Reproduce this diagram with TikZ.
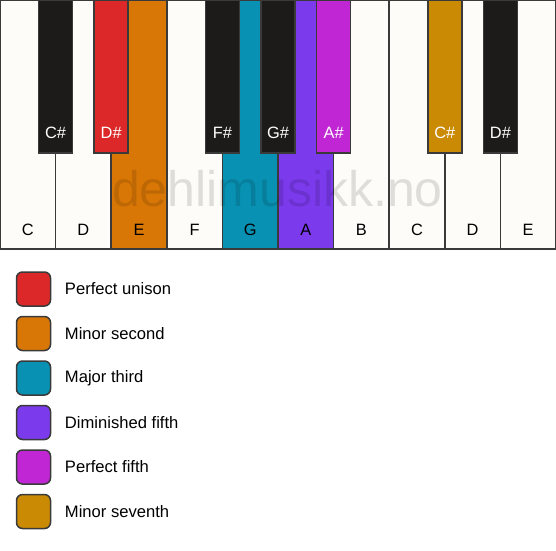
\documentclass[tikz,border=0pt]{standalone}
\usepackage{fontspec}
\setmainfont{Liberation Sans}
\usetikzlibrary{positioning}

\definecolor{keywhite}{HTML}{FDFCF8}
\definecolor{keyblack}{HTML}{1C1B1A}
\definecolor{keyline}{HTML}{3A3A3A}
\definecolor{unison}{HTML}{DC2828}
\definecolor{minsecond}{HTML}{D97706}
\definecolor{majthird}{HTML}{0891B2}
\definecolor{dimfifth}{HTML}{7C3AED}
\definecolor{perffifth}{HTML}{C026D3}
\definecolor{minseventh}{HTML}{CA8A04}

\begin{document}
\begin{tikzpicture}[
  x=1pt, y=-1pt,
  whitekey/.style={draw=keyline, line width=1.5pt, minimum width=55.6pt,
    minimum height=249pt, inner sep=0pt, outer sep=0pt},
  blackkey/.style={draw=keyline, line width=1.5pt, minimum width=34pt,
    minimum height=153pt, inner sep=0pt, outer sep=0pt},
  keyname/.style={font=\fontsize{16.4}{19}\selectfont, text=black},
  sharpname/.style={font=\fontsize{16.4}{19}\selectfont, text=white},
  watermark/.style={font=\fontsize{50}{60}\selectfont, text=black,
    text opacity=0.12, anchor=base},
  swatch/.style={draw=keyline, line width=1.5pt, rounded corners=6pt,
    minimum size=34pt, inner sep=0pt},
  legendtext/.style={font=\fontsize{16.6}{19}\selectfont, inner sep=0pt},
]
  \useasboundingbox (0,0) rectangle (556,550);

  % white keys
  \foreach \n/\col [count=\i from 0] in {C/keywhite, D/keywhite, E/minsecond,
      F/keywhite, G/majthird, A/dimfifth, B/keywhite, C/keywhite, D/keywhite,
      E/keywhite} {
    \node[whitekey, fill=\col] (w\i) at (27.8+55.6*\i, 124.5) {};
    \node[keyname] (wn\i) at (27.8+55.6*\i, 230) {\n};
  }

  \node[watermark] (wm) at (277.5,206) {dehlimusikk.no};

  % black keys
  \foreach \x/\n/\col in {1/C/keyblack, 2/D/unison, 4/F/keyblack,
      5/G/keyblack, 6/A/perffifth, 8/C/minseventh, 9/D/keyblack} {
    \node[blackkey, fill=\col] (b\x) at (55.6*\x, 76.5) {};
    \node[sharpname] (bn\x) at (55.6*\x, 133) {\n\#};
  }

  % legend
  \foreach \col/\txt [count=\i from 0] in {unison/Perfect unison,
      minsecond/Minor second, majthird/Major third, dimfifth/Diminished fifth,
      perffifth/Perfect fifth, minseventh/Minor seventh} {
    \node[swatch, fill=\col] (s\i) at (33.5, 289+44.5*\i) {};
    \node[legendtext, right=13.5pt of s\i] (l\i) {\txt};
  }
\end{tikzpicture}
\end{document}
